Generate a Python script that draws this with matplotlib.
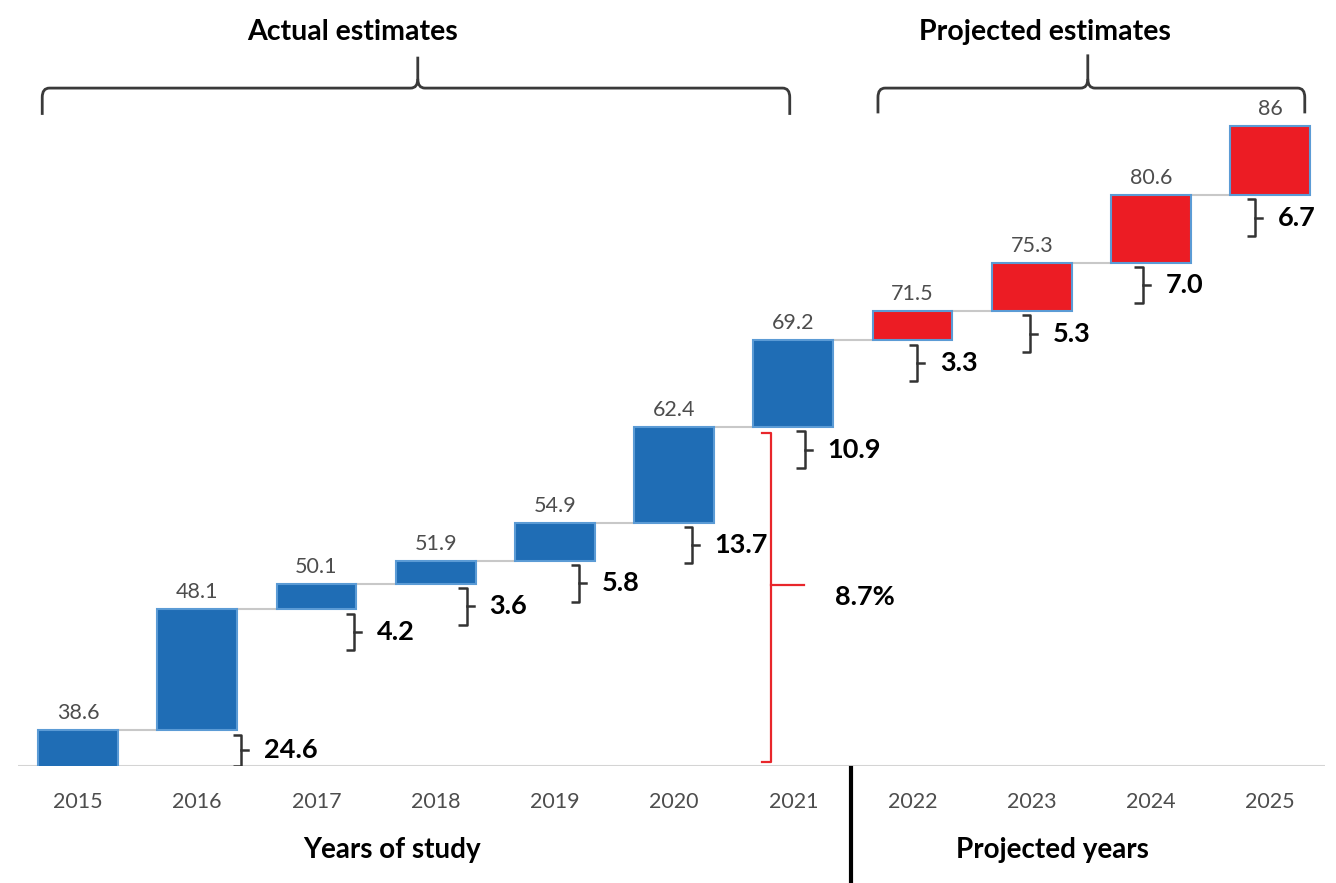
import matplotlib
matplotlib.use("Agg")
import matplotlib.pyplot as plt
import numpy as np
from matplotlib.path import Path
from matplotlib.patches import PathPatch
from matplotlib.transforms import blended_transform_factory

plt.rcParams["font.family"] = ["Lato", "DejaVu Sans"]

# ---- data ----
years = ["2015", "2016", "2017", "2018", "2019", "2020", "2021",
         "2022", "2023", "2024", "2025"]
values = [38.6, 48.1, 50.1, 51.9, 54.9, 62.4, 69.2, 71.5, 75.3, 80.6, 86.0]
growth = [24.6, 4.2, 3.6, 5.8, 13.7, 10.9, 3.3, 5.3, 7.0, 6.7]
n_actual = 7          # 2015-2021 are observed, the rest projected
cagr_actual = 8.7

# ---- style ----
BLUE = "#1F6DB5"
RED = "#EC1C24"
EDGE = "#5B9BD5"
GREY_TXT = "#4D4D4D"
BRACKET = "#333333"

fig = plt.figure(figsize=(13.36, 8.83), dpi=100)
ax = fig.add_axes([0.0135, 0.1325, 0.9783, 0.8675])

x = np.arange(len(years))
vals = np.array(values)
bottoms = np.concatenate([[0.0], vals[:-1]])
colors = [BLUE] * n_actual + [RED] * (len(years) - n_actual)
width = 0.67

ymin, ymax = 35.8, 95.9
ax.set_xlim(-0.503, 10.46)
ax.set_ylim(ymin, ymax)

ax.bar(x, vals - bottoms, bottom=bottoms, width=width, color=colors,
       edgecolor=EDGE, linewidth=1.5, zorder=3)

# connectors between consecutive boxes
for i in range(len(x) - 1):
    ax.plot([x[i] + width / 2, x[i + 1] - width / 2], [vals[i], vals[i]],
            color="#C8C8C8", lw=1.5, zorder=2)

# value labels
for xi, v in zip(x, vals):
    ax.annotate(f"{v:g}", (xi, v), xytext=(0, 5), textcoords="offset points",
                ha="center", va="bottom", fontsize=15.5, color=GREY_TXT)

# growth brackets
offsets = 0.37 - 0.055 * np.arange(len(growth))
for i, g in enumerate(growth):
    xb = x[i + 1] + offsets[i]
    top = vals[i] - 0.35
    bot = max(vals[i] - 3.2, ymin)
    ax.plot([xb - 0.07, xb, xb, xb - 0.07], [top, top, bot, bot],
            color=BRACKET, lw=1.8, solid_capstyle="butt", zorder=4)
    mid = (top + bot) / 2
    ax.plot([xb, xb + 0.06], [mid, mid], color=BRACKET, lw=1.8, zorder=4)
    ax.text(xb + 0.19, mid, f"{g:.1f}", ha="left", va="center",
            fontsize=19.5, fontweight="bold", color="black")

# overall growth bracket for the observed years
xr = 5.81
rtop = vals[n_actual - 2] - 0.45
rbot = ymin + 0.3
ax.plot([xr - 0.07, xr, xr, xr - 0.07], [rtop, rtop, rbot, rbot],
        color="#E8262B", lw=1.6, zorder=4)
rmid = (rtop + rbot) / 2
ax.plot([xr, xr + 0.28], [rmid + 1.0, rmid + 1.0], color="#E8262B", lw=1.6)
ax.text(6.35, rmid, f"{cagr_actual:.1f}%", ha="left", va="center",
        fontsize=19.5, fontweight="bold", color="black")

# axis styling
for s in ax.spines.values():
    s.set_visible(False)
ax.axhline(ymin, color="#D4D4D4", lw=1.5, zorder=1)
ax.set_yticks([])
ax.set_xticks(x, labels=years)
ax.tick_params(axis="x", length=0, pad=19, labelsize=15.5, labelcolor=GREY_TXT)

trans = blended_transform_factory(ax.transData, ax.transAxes)


def curly_brace(x0, x1, xm, y_line, y_end, y_tip, rx=0.06, ry=0.012):
    verts = [(x0, y_end), (x0, y_line - ry), (x0, y_line), (x0 + rx, y_line),
             (xm - rx, y_line), (xm, y_line), (xm, y_line + ry), (xm, y_tip)]
    codes = [Path.MOVETO, Path.LINETO, Path.CURVE3, Path.CURVE3,
             Path.LINETO, Path.CURVE3, Path.CURVE3, Path.LINETO]
    verts2 = [(xm, y_line + ry), (xm, y_line), (xm + rx, y_line),
              (x1 - rx, y_line), (x1, y_line), (x1, y_line - ry), (x1, y_end)]
    codes2 = [Path.MOVETO, Path.CURVE3, Path.CURVE3,
              Path.LINETO, Path.CURVE3, Path.CURVE3, Path.LINETO]
    for vv, cc in ((verts, codes), (verts2, codes2)):
        ax.add_patch(PathPatch(Path(vv, cc), transform=trans, fill=False,
                               edgecolor="#3A3A3A", lw=2, clip_on=False))


curly_brace(-0.30, 5.97, 2.85, 0.885, 0.850, 0.926)
curly_brace(6.71, 10.29, 8.47, 0.885, 0.852, 0.929)
ax.text(2.30, 0.958, "Actual estimates", transform=trans, ha="center",
        va="center", fontsize=20.5, fontweight="bold")
ax.text(8.11, 0.958, "Projected estimates", transform=trans, ha="center",
        va="center", fontsize=20.5, fontweight="bold")

# lower captions and divider
ax.text(2.63, -0.110, "Years of study", transform=trans, ha="center",
        va="center", fontsize=20, fontweight="bold", clip_on=False)
ax.text(8.17, -0.110, "Projected years", transform=trans, ha="center",
        va="center", fontsize=20, fontweight="bold", clip_on=False)
ax.plot([6.485, 6.485], [-0.003, -0.16], transform=trans, color="black",
        lw=3, clip_on=False)

fig.savefig("out.png", dpi=100)
